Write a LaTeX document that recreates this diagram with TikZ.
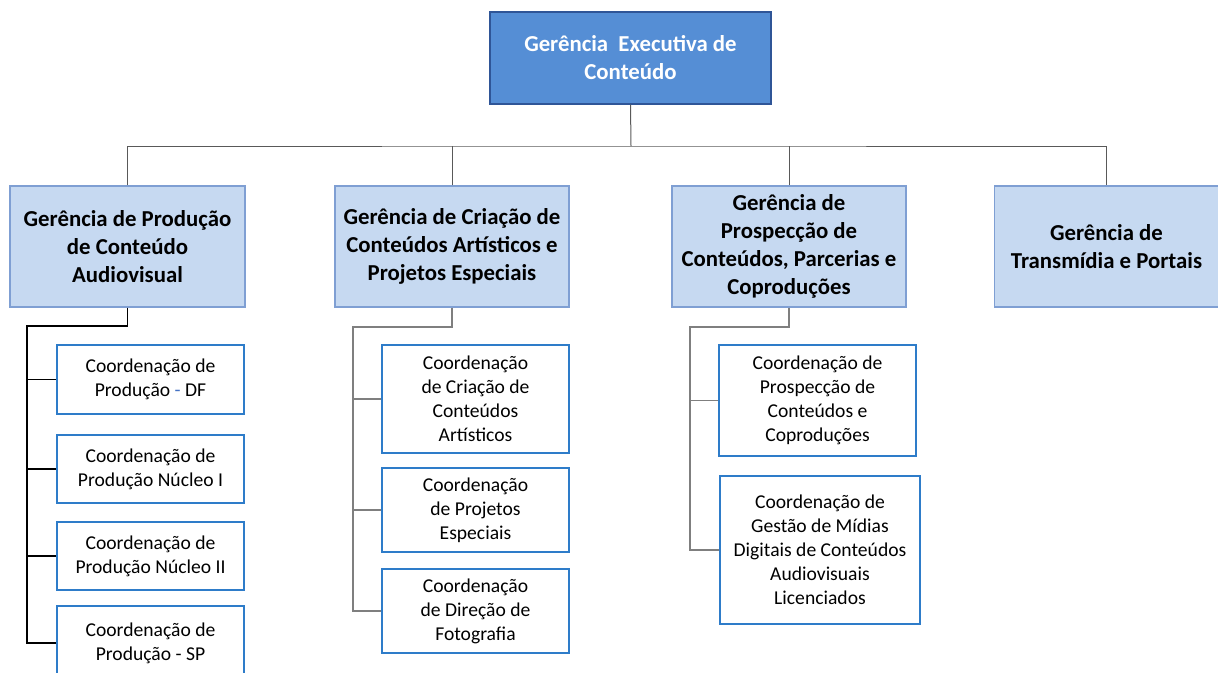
\documentclass[tikz,border=0pt]{standalone}
\usepackage{fontspec}
\setmainfont{Carlito}
\definecolor{execfill}{HTML}{558ED5}
\definecolor{execborder}{HTML}{2F5597}
\definecolor{mgrfill}{HTML}{C6D9F1}
\definecolor{mgrborder}{HTML}{7F9FD3}
\definecolor{coordborder}{HTML}{2E7CC9}
\definecolor{busgray}{HTML}{595959}
\definecolor{sidegray}{HTML}{7F7F7F}
\definecolor{dashblue}{HTML}{4472C4}
\tikzset{
  exec/.style={draw=execborder, fill=execfill, line width=1.3pt, text=white,
    font=\bfseries\fontsize{22.8}{28}\selectfont, align=center, inner sep=0pt},
  mgr/.style={draw=mgrborder, fill=mgrfill, line width=1.3pt, text=black,
    font=\bfseries\fontsize{22.8}{28}\selectfont, align=center, inner sep=0pt},
  coord/.style={draw=coordborder, fill=white, line width=1.3pt, text=black,
    font=\fontsize{19.6}{24}\selectfont, align=center, inner sep=0pt},
  bus/.style={draw=busgray, line width=1pt},
  leftconn/.style={draw=black, line width=1.6pt},
  sideconn/.style={draw=sidegray, line width=1.1pt},
}
\begin{document}
\begin{tikzpicture}[x=1pt,y=-1pt]
\useasboundingbox (0,0) rectangle (1218,672);
% executive
\node[exec, minimum width=281pt, minimum height=92pt] (top) at (630.5,58) {Gerência\ \ Executiva de\\Conteúdo};
% managers
\node[mgr, minimum width=235pt, minimum height=121pt] (A) at (127.5,246.5) {Gerência de Produção\\de Conteúdo\\Audiovisual};
\node[mgr, minimum width=234pt, minimum height=121pt] (B) at (452,246.5) {Gerência de Criação de\\Conteúdos Artísticos e\\Projetos Especiais};
\node[mgr, minimum width=234pt, minimum height=121pt] (C) at (789,246.5) {Gerência de\\Prospecção de\\Conteúdos, Parcerias e\\Coproduções};
\node[mgr, minimum width=224pt, minimum height=121pt] (D) at (1106.5,246.5) {Gerência de\\Transmídia e Portais};
% left column
\node[coord, minimum width=187pt, minimum height=69pt] (L1) at (150.5,379.5) {Coordenação de\\Produção {\color{dashblue}-} DF};
\node[coord, minimum width=187pt, minimum height=68pt] (L2) at (150.5,469) {Coordenação de\\Produção Núcleo I};
\node[coord, minimum width=187pt, minimum height=68pt] (L3) at (150.5,556) {Coordenação de\\Produção Núcleo II};
\node[coord, minimum width=187pt, minimum height=74pt] (L4) at (150.5,643) {Coordenação de\\Produção - SP};
% middle column
\node[coord, minimum width=187pt, minimum height=108pt] (M1) at (475.5,399) {Coordenação\\de Criação de\\Conteúdos\\Artísticos};
\node[coord, minimum width=187pt, minimum height=84pt] (M2) at (475.5,510) {Coordenação\\de Projetos\\Especiais};
\node[coord, minimum width=187pt, minimum height=84pt] (M3) at (475.5,611) {Coordenação\\de Direção de\\Fotografia};
% right column
\node[coord, minimum width=197pt, minimum height=111pt] (R1) at (817.5,400.5) {Coordenação de\\Prospecção de\\Conteúdos e\\Coproduções};
\node[coord, minimum width=200pt, minimum height=148pt] (R2) at (820,550) {Coordenação de\\Gestão de Mídias\\Digitais de Conteúdos\\Audiovisuais\\Licenciados};
% top bus
\coordinate (bus) at (631,146);
\draw[bus] (top.south) -- (bus);
\draw[bus] (A.north) |- (bus) -| (D.north);
\draw[bus] (B.north) -- (B.north |- bus);
\draw[bus] (C.north) -- (C.north |- bus);
% left connectors
\coordinate (la) at (27,326);
\draw[leftconn] (A.south) |- (la) -- (la |- L4.west) -- (L4.west);
\draw[leftconn] (la |- L1.west) -- (L1.west);
\draw[leftconn] (la |- L2.west) -- (L2.west);
\draw[leftconn] (la |- L3.west) -- (L3.west);
% middle connectors
\coordinate (ma) at (353,327);
\draw[sideconn] (B.south) |- (ma) -- (ma |- M3.west) -- (M3.west);
\draw[sideconn] (ma |- M1.west) -- (M1.west);
\draw[sideconn] (ma |- M2.west) -- (M2.west);
% right connectors
\coordinate (ra) at (690,327);
\draw[sideconn] (C.south) |- (ra) -- (ra |- R2.west) -- (R2.west);
\draw[sideconn] (ra |- R1.west) -- (R1.west);
\end{tikzpicture}
\end{document}
